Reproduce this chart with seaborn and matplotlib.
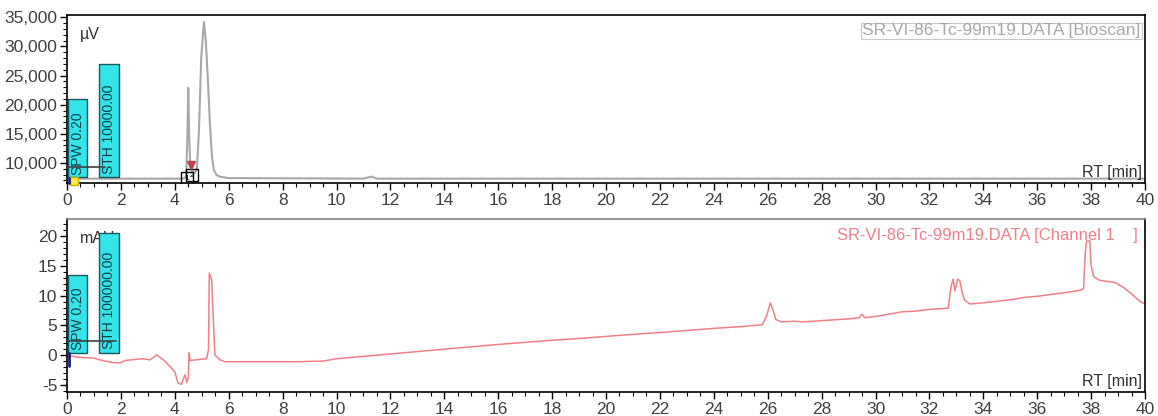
import numpy as np
import pandas as pd
import matplotlib
matplotlib.use("Agg")
import matplotlib.pyplot as plt
from matplotlib.ticker import MultipleLocator, FuncFormatter
from matplotlib.patches import Rectangle
import seaborn as sns

# ---------------- data ----------------
bio_time = [0, 4.30, 4.42, 4.47, 4.50, 4.53, 4.58, 4.65, 4.75, 4.82, 4.90, 4.98, 5.08,
            5.15, 5.22, 5.30, 5.38, 5.45, 5.55, 5.70, 6.00, 11.0, 11.3, 11.5, 40]
bio_uv = [7300, 7300, 7600, 15000, 22900, 15000, 9300, 8500, 8300, 9000, 16000, 28000, 34200,
          31000, 25000, 17000, 11000, 8800, 7900, 7600, 7400, 7300, 7650, 7300, 7300]

ch1_time = [0, 0.10, 0.40, 1.00, 1.22, 1.70, 1.98, 2.15, 2.80, 3.08, 3.33, 3.58, 3.82,
            4.00, 4.12, 4.24, 4.38, 4.44, 4.50, 4.53, 4.57, 5.18, 5.25, 5.28, 5.37, 5.41,
            5.49, 5.68, 5.86, 8.6, 9.5, 10, 11, 12, 13, 14, 15, 16, 17, 18, 19, 20, 21, 22,
            23, 24, 25, 25.8, 25.95, 26.1, 26.2, 26.3, 26.5, 27, 27.3, 28, 29, 29.4, 29.5,
            29.6, 30, 30.5, 31, 31.5, 32, 32.7, 32.8, 32.88, 32.95, 33.05, 33.13, 33.22,
            33.3, 33.5, 34, 35, 35.5, 36, 36.5, 37, 37.6, 37.72, 37.78, 37.83, 37.95, 38.0,
            38.1, 38.3, 38.9, 39.2, 39.5, 39.8, 40]
ch1_mau = [-0.3, -0.1, -0.35, -0.5, -0.8, -1.25, -1.3, -0.9, -0.6, -0.8, 0.03, -0.8, -1.9,
           -2.8, -4.7, -4.9, -3.3, -4.6, -3.8, 0.4, -0.9, -0.6, 0.9, 13.8, 12.6, 8.1,
           0.0, -0.8, -1.1, -1.1, -1.0, -0.6, -0.2, 0.2, 0.6, 1.0, 1.4, 1.8, 2.15, 2.5, 2.8,
           3.15, 3.5, 3.8, 4.15, 4.5, 4.8, 5.1, 6.5, 8.8, 7.5, 6.0, 5.6, 5.7, 5.6, 5.8, 6.1,
           6.3, 6.9, 6.3, 6.5, 6.9, 7.3, 7.4, 7.7, 7.9, 11.5, 12.8, 10.8, 12.8, 12.5, 10.5,
           9.3, 8.6, 8.8, 9.3, 9.7, 9.9, 10.2, 10.5, 10.9, 11.2, 17.0, 19.2, 19.2, 15.0,
           13.2, 12.6, 12.2, 11.4, 10.3, 9.1, 8.6]

x_ticks = list(range(0, 41, 2))
top_title = "SR-VI-86-Tc-99m19.DATA [Bioscan]"
bot_title = "SR-VI-86-Tc-99m19.DATA [Channel 1    ]"

df_bio = pd.DataFrame({"t": bio_time, "v": bio_uv})
df_ch1 = pd.DataFrame({"t": ch1_time, "v": ch1_mau})

# ---------------- styling ----------------
sns.set_style("ticks")
plt.rcParams["font.family"] = ["Liberation Sans", "DejaVu Sans"]
plt.rcParams["xtick.direction"] = "out"
plt.rcParams["ytick.direction"] = "out"

W, H = 1158, 416
fig = plt.figure(figsize=(W / 100, H / 100), dpi=100)
ax1 = fig.add_axes([67 / W, 1 - 183 / H, (1145 - 67) / W, (183 - 15) / H])
ax2 = fig.add_axes([67 / W, 1 - 392 / H, (1145 - 67) / W, (392 - 219) / H])

gray = "#a8a8a8"
red = "#f08088"
cyan = "#33e5ea"
tick_col = "#404040"

sns.lineplot(data=df_bio, x="t", y="v", ax=ax1, color=gray, lw=1.5, estimator=None, sort=False)
sns.lineplot(data=df_ch1, x="t", y="v", ax=ax2, color=red, lw=1.1, estimator=None, sort=False)

for ax in (ax1, ax2):
    ax.set_xlim(0, 40)
    ax.set_xticks(x_ticks)
    ax.xaxis.set_minor_locator(MultipleLocator(0.5))
    ax.set_xlabel("")
    ax.set_ylabel("")
    for s in ax.spines.values():
        s.set_visible(True)
        s.set_color("black")
        s.set_linewidth(1.2)
    ax.tick_params(axis="both", which="major", length=5, width=1, color="black",
                   labelsize=12.5, labelcolor=tick_col, pad=2)
    ax.tick_params(axis="both", which="minor", length=3, width=0.8, color="black")
    ax.text(0.997, 0.02, "RT [min]", transform=ax.transAxes, ha="right", va="bottom",
            fontsize=11.5, color="#303030")

ax2.spines["top"].set_color("#808080")

ax1.set_ylim(6550, 35400)
ax1.yaxis.set_major_locator(MultipleLocator(5000))
ax1.yaxis.set_minor_locator(MultipleLocator(1000))
ax1.yaxis.set_major_formatter(FuncFormatter(lambda v, p: f"{int(v):,}" if v >= 10000 else ""))

ax2.set_ylim(-6.2, 22.9)
ax2.yaxis.set_major_locator(MultipleLocator(5))
ax2.yaxis.set_minor_locator(MultipleLocator(1))
ax2.yaxis.set_major_formatter(FuncFormatter(lambda v, p: f"{int(v)}"))

# unit labels
ax1.text(0.012, 0.93, "µV", transform=ax1.transAxes, ha="left", va="top", fontsize=11.5, color="#303030")
ax2.text(0.012, 0.93, "mAU", transform=ax2.transAxes, ha="left", va="top", fontsize=11.5, color="#303030")

# titles
ax1.text(0.996, 0.905, top_title, transform=ax1.transAxes, ha="right", va="center",
         fontsize=12.5, color=gray,
         bbox=dict(boxstyle="square,pad=0.05", fc="none", ec="#c8c8c8", lw=0.8))
ax2.text(0.993, 0.905, bot_title, transform=ax2.transAxes, ha="right", va="center",
         fontsize=12, color=red)

# parameter boxes (annotations)
def param_box(ax, x0, x1, y0, y1, label):
    ax.add_patch(Rectangle((x0, y0), x1 - x0, y1 - y0, fc=cyan, ec="#1a5a5a", lw=1, zorder=3))
    ax.text((x0 + x1) / 2, y0 + (y1 - y0) * 0.03, label, rotation=90, ha="center", va="bottom",
            fontsize=10, color="#0b3f4a", zorder=4)

param_box(ax1, 0.04, 0.75, 7590, 21000, "SPW 0.20")
param_box(ax1, 1.19, 1.93, 7590, 26900, "STH 10000.00")
ax1.plot([0, 1.4], [9300, 9300], color="#404040", lw=1.2, zorder=5)
ax1.plot([0.25], [6950], marker="s", ms=6, color="#ffee44", mec="#c8b400", zorder=5, clip_on=False)
ax1.plot([0.08, 0.08], [6600, 7400], color="#20207a", lw=2, zorder=6, clip_on=False)
# peak markers
for (xm, ym, lab) in [(4.45, 7350, "1"), (4.62, 7900, "2")]:
    ax1.plot([xm], [ym], marker="s", ms=8, mfc="none", mec="black", mew=1, zorder=6)
    ax1.text(xm, ym, lab, ha="center", va="center", fontsize=6, color="black", zorder=6)
ax1.plot([4.6], [9600], marker="v", ms=6, color="#c04050", zorder=6)

param_box(ax2, 0.04, 0.75, 0.42, 13.5, "SPW 0.20")
param_box(ax2, 1.19, 1.93, 0.42, 20.5, "STH 100000.00")
ax2.plot([0, 1.8], [2.3, 2.3], color="#404040", lw=1.2, zorder=5)
ax2.plot([0.08, 0.08], [0.4, -1.9], color="#20207a", lw=2, zorder=6)

fig.savefig("out.png", dpi=100, facecolor="white")
